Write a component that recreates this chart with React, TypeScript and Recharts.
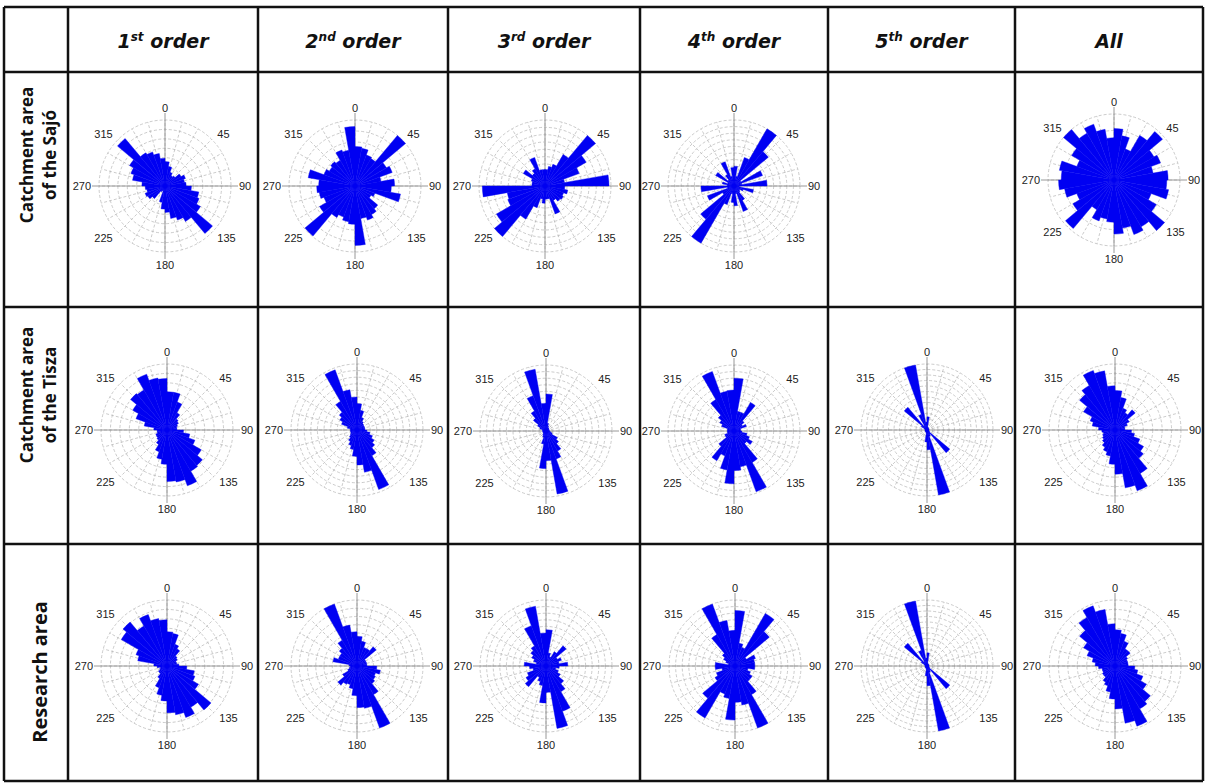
import {
  RadialBarChart,
  RadialBar,
  PolarGrid,
  PolarAngleAxis,
  PolarRadiusAxis,
} from 'recharts'

// compass bins, 10 degrees each (start of bin)
const bins = [
  0, 10, 20, 30, 40, 50, 60, 70, 80, 90, 100, 110, 120, 130, 140, 150, 160, 170,
  180, 190, 200, 210, 220, 230, 240, 250, 260, 270, 280, 290, 300, 310, 320, 330, 340, 350,
]

// bar length in % of the outer circle
const sajo1 = [37, 30, 22, 18, 20, 28, 33, 30, 32, 40, 52, 55, 62, 94, 62, 55, 50, 40, 35, 25, 8, 10, 25, 30, 32, 28, 30, 35, 50, 55, 62, 94, 58, 55, 50, 42]
const sajo2 = [60, 58, 50, 48, 100, 55, 60, 40, 60, 55, 70, 32, 28, 45, 50, 55, 50, 90, 58, 55, 50, 55, 99, 62, 50, 55, 58, 55, 72, 50, 45, 48, 45, 58, 55, 90]
const sajo3 = [25, 30, 35, 55, 100, 72, 55, 30, 97, 30, 35, 30, 32, 30, 25, 45, 20, 20, 26, 20, 35, 58, 100, 85, 60, 58, 95, 20, 20, 22, 38, 25, 30, 46, 25, 25]
const sajo4 = [30, 15, 46, 100, 68, 12, 46, 12, 50, 8, 30, 15, 10, 12, 25, 41, 12, 30, 25, 12, 30, 100, 66, 20, 43, 10, 50, 10, 18, 10, 32, 12, 20, 39, 15, 28]
const sajoAll = [78, 68, 50, 78, 96, 70, 75, 60, 82, 80, 84, 60, 74, 100, 82, 88, 74, 82, 64, 60, 66, 52, 96, 72, 60, 76, 84, 80, 84, 60, 74, 100, 82, 90, 78, 64]

const tisza1 = [58, 58, 45, 30, 22, 20, 17, 15, 15, 25, 35, 45, 60, 70, 72, 90, 80, 78, 52, 45, 35, 25, 20, 18, 18, 15, 15, 20, 35, 50, 60, 72, 70, 90, 80, 78]
const tisza2 = [40, 30, 20, 15, 13, 12, 12, 12, 12, 15, 20, 25, 30, 35, 45, 96, 65, 53, 40, 30, 25, 20, 15, 12, 10, 10, 10, 10, 15, 25, 30, 35, 50, 97, 62, 50]
const tisza3 = [56, 12, 8, 6, 6, 5, 5, 5, 5, 6, 8, 10, 20, 25, 35, 45, 97, 45, 57, 20, 10, 8, 6, 5, 5, 5, 5, 5, 6, 10, 15, 25, 35, 57, 95, 42]
const tisza4 = [80, 30, 30, 50, 20, 15, 20, 10, 10, 12, 20, 25, 32, 25, 55, 98, 55, 60, 80, 60, 40, 52, 30, 15, 15, 10, 10, 10, 10, 20, 25, 31, 55, 96, 61, 62]
const tisza5 = [20, 5, 4, 3, 3, 3, 3, 3, 3, 3, 3, 3, 5, 45, 8, 10, 100, 30, 18, 5, 3, 3, 3, 3, 3, 3, 3, 3, 3, 5, 10, 45, 8, 25, 100, 12]
const tiszaAll = [60, 50, 35, 30, 40, 25, 20, 15, 15, 25, 30, 40, 50, 56, 76, 98, 89, 67, 52, 40, 35, 30, 25, 22, 20, 18, 20, 25, 35, 40, 55, 70, 78, 96, 91, 67]

const research1 = [52, 50, 35, 30, 20, 18, 15, 15, 18, 30, 42, 45, 55, 87, 72, 83, 75, 71, 53, 45, 35, 22, 15, 15, 12, 10, 15, 20, 45, 50, 80, 87, 70, 83, 73, 70]
const research2 = [45, 38, 30, 30, 38, 15, 15, 15, 15, 30, 36, 30, 32, 35, 50, 100, 65, 63, 45, 35, 30, 32, 38, 25, 15, 12, 10, 12, 37, 30, 30, 35, 45, 100, 63, 52]
const research3 = [55, 20, 15, 25, 40, 20, 25, 20, 33, 20, 15, 20, 25, 35, 45, 73, 96, 40, 56, 30, 25, 20, 41, 35, 30, 20, 25, 33, 15, 20, 25, 30, 35, 65, 92, 50]
const research4 = [84, 35, 30, 92, 68, 20, 33, 30, 30, 30, 20, 25, 30, 30, 50, 100, 60, 55, 82, 50, 45, 91, 64, 35, 30, 20, 30, 30, 10, 15, 20, 25, 55, 100, 70, 54]
const research5 = [20, 5, 3, 3, 3, 3, 3, 3, 3, 3, 3, 3, 5, 45, 8, 10, 100, 30, 15, 5, 3, 3, 3, 3, 3, 3, 3, 3, 3, 5, 10, 45, 8, 25, 100, 12]
const researchAll = [55, 50, 40, 30, 30, 22, 20, 20, 20, 30, 35, 45, 55, 70, 75, 97, 88, 65, 50, 40, 32, 28, 22, 22, 20, 20, 25, 30, 35, 45, 55, 70, 85, 97, 87, 64]

// number of concentric rings drawn in each rose
const ringCounts = [
  [7, 6, 9, 10, 0, 4],
  [7, 10, 10, 10, 12, 7],
  [7, 8, 10, 10, 12, 7],
]

const columnTitles = [
  ['1', 'st'],
  ['2', 'nd'],
  ['3', 'rd'],
  ['4', 'th'],
  ['5', 'th'],
  ['All', ''],
]
const rowTitles = [
  ['Catchment area', 'of the Sajó'],
  ['Catchment area', 'of the Tisza'],
  ['Research area'],
]

const roses = [
  [sajo1, sajo2, sajo3, sajo4, null, sajoAll],
  [tisza1, tisza2, tisza3, tisza4, tisza5, tiszaAll],
  [research1, research2, research3, research4, research5, researchAll],
]

const gridDegs = [0, 15, 30, 45, 60, 75, 90, 105, 120, 135, 150, 165, 180, 195, 210, 225, 240, 255, 270, 285, 300, 315, 330, 345]
const labelDegs = [0, 45, 90, 135, 180, 225, 270, 315]
const crossDegs = [0, 90, 180, 270]

// table layout
const colX = [4, 68, 258, 448, 640, 828, 1015, 1203]
const rowY = [7, 72, 307, 544, 781]
const roseX = [
  [165, 355, 545, 734, 0, 1114],
  [167, 357, 546, 734, 927, 1115],
  [167, 357, 546, 735, 927, 1115],
]
const roseY = [
  [186, 186, 186, 186, 0, 180],
  [430, 430, 431, 431, 430, 430],
  [666, 666, 666, 666, 666, 666],
]
const R = 66
const BLUE = '#0000f2'
const AXIS = '#8c8c8c'

const toMath = (deg: number) => 90 - deg
const rad = (deg: number) => (deg * Math.PI) / 180

interface RoseProps {
  values: number[]
  rings: number
  width: number
  height: number
  cx: number
  cy: number
}

const Rose = ({ values, rings, width, height, cx, cy }: RoseProps) => {
  const data = bins.map((b, i) => ({ bin: b, v: values[i] }))
  const ringTicks = Array.from({ length: rings + 1 }, (_, i) => (i * 100) / rings)
  return (
    <div style={{ position: 'relative', width, height }}>
      {/* recharts puts category bar i one band counter-clockwise, so the range is turned by 10 deg */}
      <RadialBarChart
        width={width}
        height={height}
        data={data}
        cx={cx}
        cy={cy}
        innerRadius={0}
        outerRadius={R}
        startAngle={80}
        endAngle={-280}
        layout="centric"
        barCategoryGap={0}
        barGap={0}
        margin={{ top: 0, right: 0, bottom: 0, left: 0 }}
      >
        <PolarGrid
          gridType="circle"
          polarAngles={gridDegs.map(toMath)}
          stroke="#b4b4b4"
          strokeDasharray="3 2"
          strokeWidth={0.7}
        />
        <PolarGrid
          gridType="circle"
          polarAngles={crossDegs.map(toMath)}
          polarRadius={[0]}
          stroke={AXIS}
          strokeWidth={0.9}
        />
        <PolarAngleAxis dataKey="bin" type="category" tick={false} tickLine={false} axisLine={false} />
        <PolarRadiusAxis type="number" domain={[0, 100]} ticks={ringTicks} tick={false} axisLine={false} />
        <RadialBar dataKey="v" fill={BLUE} stroke={BLUE} strokeWidth={0.4} isAnimationActive={false} />
      </RadialBarChart>
      <svg width={width} height={height} style={{ position: 'absolute', left: 0, top: 0 }}>
        {crossDegs.map((d) => (
          <line
            key={'t' + d}
            x1={cx + R * Math.sin(rad(d))}
            y1={cy - R * Math.cos(rad(d))}
            x2={cx + (R + 7) * Math.sin(rad(d))}
            y2={cy - (R + 7) * Math.cos(rad(d))}
            stroke={AXIS}
            strokeWidth={0.9}
          />
        ))}
        {labelDegs.map((d) => {
          const s = Math.sin(rad(d))
          const anchor = s > 0.01 ? 'start' : s < -0.01 ? 'end' : 'middle'
          const dy = d === 0 ? 0 : d === 180 ? 9 : 4
          return (
            <text
              key={'l' + d}
              x={cx + (R + 8) * s}
              y={cy - (R + 8) * Math.cos(rad(d))}
              dy={dy}
              textAnchor={anchor}
              fontSize={11}
              fontFamily="Liberation Sans, Arial, sans-serif"
              fill="#222"
            >
              {d}
            </text>
          )
        })}
      </svg>
    </div>
  )
}

const App = () => {
  const W = 1205
  const H = 784
  return (
    <div style={{ position: 'absolute', left: 0, top: 0, width: W, height: H, background: '#fff' }}>
      <svg width={W} height={H} style={{ position: 'absolute', left: 0, top: 0 }}>
        {colX.map((x, i) => (
          <line key={'v' + i} x1={x} x2={x} y1={rowY[0]} y2={rowY[rowY.length - 1]} stroke="#111" strokeWidth={2.5} />
        ))}
        {rowY.map((y, i) => (
          <line key={'h' + i} x1={colX[0]} x2={colX[colX.length - 1]} y1={y} y2={y} stroke="#111" strokeWidth={2.5} />
        ))}
        {columnTitles.map(([main, sup], i) => (
          <text
            key={'c' + i}
            x={(colX[i + 1] + colX[i + 2]) / 2}
            y={48}
            textAnchor="middle"
            fontFamily="DejaVu Sans, Verdana, sans-serif"
            fontWeight="bold"
            fontStyle="italic"
            fontSize={19}
            fill="#111"
          >
            {main}
            {sup ? (
              <>
                <tspan dy={-7} fontSize={12}>
                  {sup}
                </tspan>
                <tspan dy={7}>{' order'}</tspan>
              </>
            ) : null}
          </text>
        ))}
        {rowTitles.map((lines, r) => {
          const cy = r === 0 ? 155 : r === 1 ? 395 : 672
          const xs = lines.length === 2 ? [33, 56] : [47]
          return lines.map((t, k) => (
            <text
              key={'r' + r + k}
              transform={`translate(${xs[k]},${cy}) rotate(-90)`}
              textAnchor="middle"
              fontFamily="Open Sans, sans-serif"
              fontWeight="bold"
              fontSize={lines.length === 2 ? 17 : 20}
              fill="#111"
            >
              {t}
            </text>
          ))
        })}
      </svg>
      {roses.map((row, r) =>
        row.map((values, c) => {
          if (!values) return null
          const left = colX[c + 1]
          const top = rowY[r + 1]
          const width = colX[c + 2] - left
          const height = rowY[r + 2] - top
          return (
            <div key={r + '-' + c} style={{ position: 'absolute', left, top, width, height }}>
              <Rose
                values={values}
                rings={ringCounts[r][c]}
                width={width}
                height={height}
                cx={roseX[r][c] - left}
                cy={roseY[r][c] - top}
              />
            </div>
          )
        })
      )}
    </div>
  )
}

export default App
